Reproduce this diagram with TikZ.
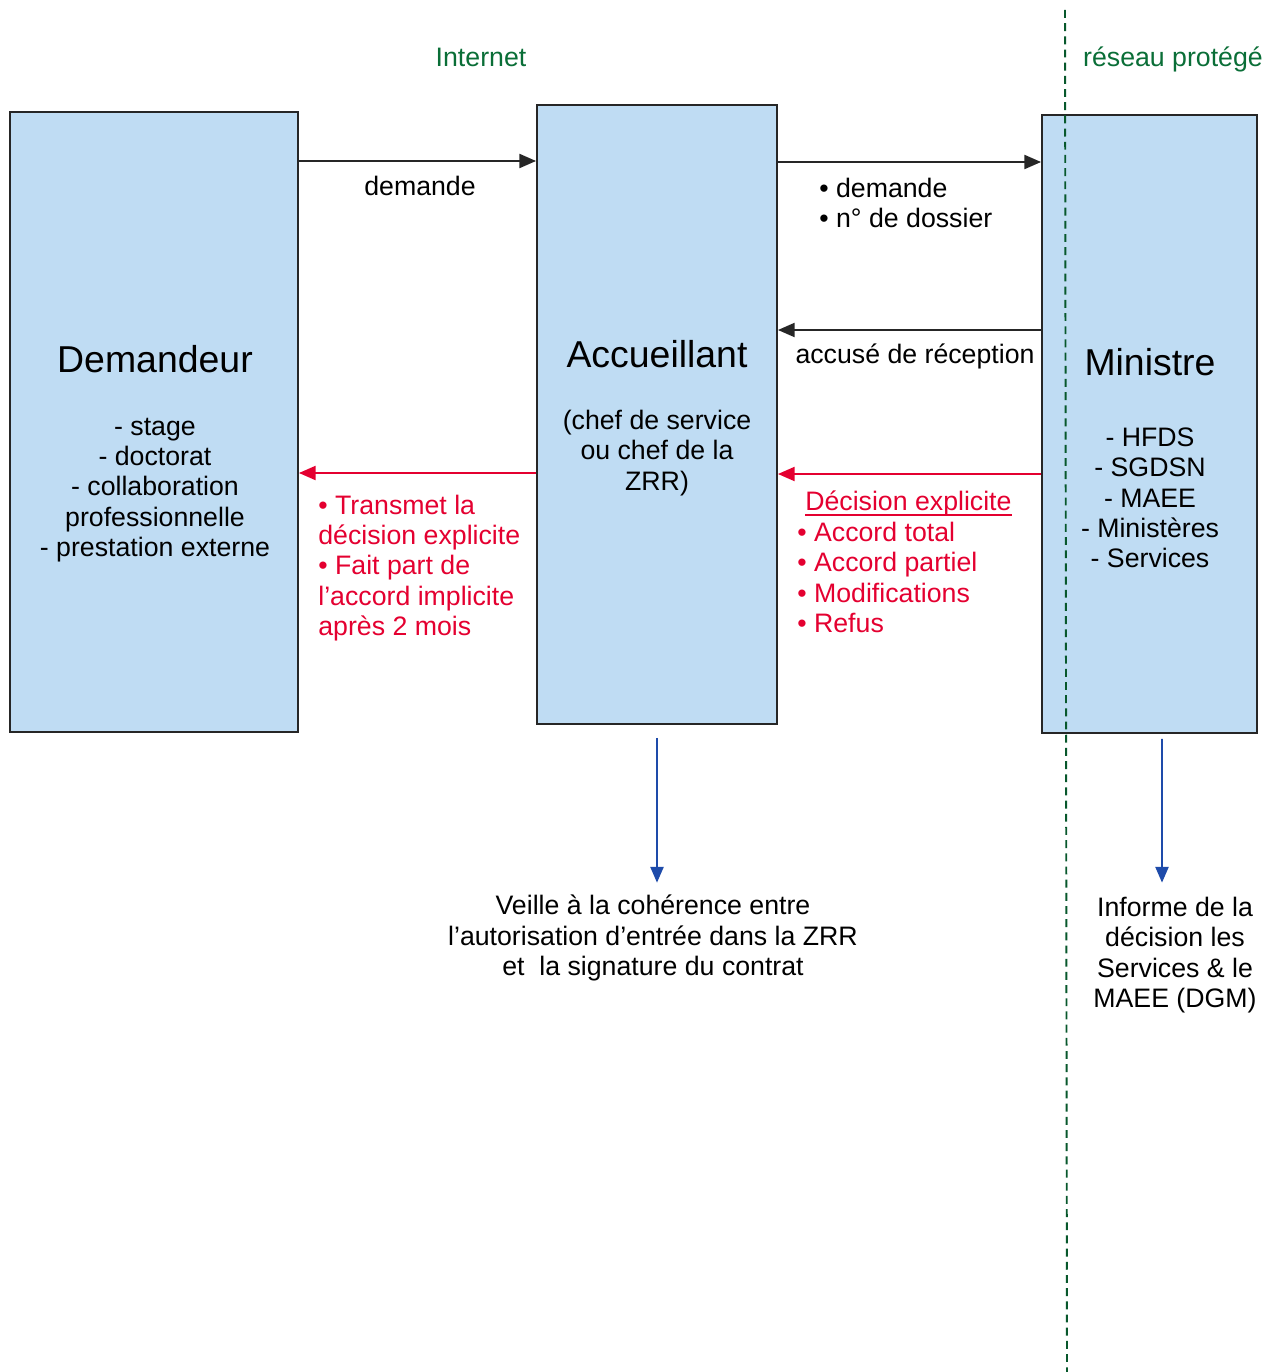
\documentclass[tikz,border=0pt]{standalone}
\usepackage{fontspec}
\setmainfont{Liberation Sans}
\usetikzlibrary{arrows.meta,calc}
\definecolor{boxblue}{RGB}{191,220,243}
\definecolor{decred}{RGB}{228,0,48}
\definecolor{infoblue}{RGB}{30,75,170}
\definecolor{netgreen}{RGB}{10,110,55}
\newsavebox\ulbox
\newcommand\uldec[1]{\sbox\ulbox{#1}\rlap{\rule[-2.8pt]{\wd\ulbox}{1.1pt}}\usebox\ulbox}
\tikzset{
  actor/.style={draw=black!85,line width=1.1pt,fill=boxblue,rectangle,inner sep=0pt},
  txt/.style={font=\fontsize{15.2}{17.3}\selectfont,align=center,inner sep=0pt},
  head/.style={font=\fontsize{21.3}{26}\selectfont,inner sep=0pt},
  flow/.style={-{Triangle[length=9.5pt,width=8pt]},line width=1.1pt,black!85},
  reply/.style={-{Triangle[length=9.5pt,width=8pt]},line width=1.1pt,decred},
  info/.style={-{Triangle[length=9pt,width=7.5pt]},line width=1.1pt,infoblue},
  zone/.style={font=\fontsize{15.2}{17.3}\selectfont,text=netgreen,inner sep=0pt},
  sepline/.style={draw=netgreen!80!black,line width=1.1pt,dash pattern=on 4.5pt off 3pt}
}

\begin{document}
\begin{tikzpicture}[x=0.02cm,y=-0.02cm]
\useasboundingbox (0,0) rectangle (1275,1372);

% actors
\node[actor,minimum width=5.76cm,minimum height=12.4cm] (dem) at (154,422) {};
\node[actor,minimum width=4.8cm,minimum height=12.38cm] (acc) at (657,414.5) {};
\node[actor,minimum width=4.3cm,minimum height=12.36cm] (min) at (1149.5,424) {};

\node[head] (demt) at (155,359) {Demandeur};
\node[txt] (deml) at (155,490) {- stage\\- doctorat\\- collaboration\\professionnelle\\- prestation externe};
\node[head] (acct) at (657,354) {Accueillant};
\node[txt] (accl) at (657,453) {(chef de service\\ou chef de la\\ZRR)};
\node[head] (mint) at (1150,362) {Ministre};
\node[txt] (minl) at (1150,498) {- HFDS\\- SGDSN\\- MAEE\\- Ministères\\- Services};

% zones
\node[zone] (inet) at (481,57) {Internet};
\node[zone] (prot) at (1173,59) {réseau protégé};
\coordinate (septop) at (1065,10);
\coordinate (sepbot) at (1067,1372);
\draw[sepline] (septop) -- (sepbot);

% rows of the exchanges
\coordinate (dmd) at (0,161);
\coordinate (dos) at (0,162);
\coordinate (acr) at (0,330);
\coordinate (trs) at (0,473);
\coordinate (dec) at (0,474);

\draw[flow] (dem.east |- dmd) -- (acc.west |- dmd);
\node[txt] (dmdl) at (420,186) {demande};
\draw[flow] (acc.east |- dos) -- (min.west |- dos);
\node[txt,align=left,anchor=west] (dosl) at (819,203) {• demande\\• n° de dossier};
\draw[flow] (min.west |- acr) -- (acc.east |- acr);
\node[txt] (acrl) at (915,356) {accusé de réception};

\draw[reply] (acc.west |- trs) -- (dem.east |- trs);
\node[txt,align=left,anchor=west,text=decred] (trsl) at (318,568) {• Transmet la\\décision explicite\\• Fait part de\\l’accord implicite\\après 2 mois};
\draw[reply] (min.west |- dec) -- (acc.east |- dec);
\node[txt,align=left,anchor=west,text=decred] (decl) at (797,562) {\hspace{4.5pt}\uldec{Décision explicite}\\• Accord total\\• Accord partiel\\• Modifications\\• Refus};

% follow-up
\node[txt] (veil) at (653,938) {Veille à la cohérence entre\\l’autorisation d’entrée dans la ZRR\\et \ la signature du contrat};
\node[txt] (infl) at (1175,955) {Informe de la\\décision les\\Services \& le\\MAEE (DGM)};
\draw[info] ($(acc.south)+(0,13)$) -- ($(acc.south |- veil.north)+(0,-12)$);
\draw[info] ($(min.south)+(12.5,5)$) -- ($(infl.north)+(-13,-14)$);

\end{tikzpicture}
\end{document}
